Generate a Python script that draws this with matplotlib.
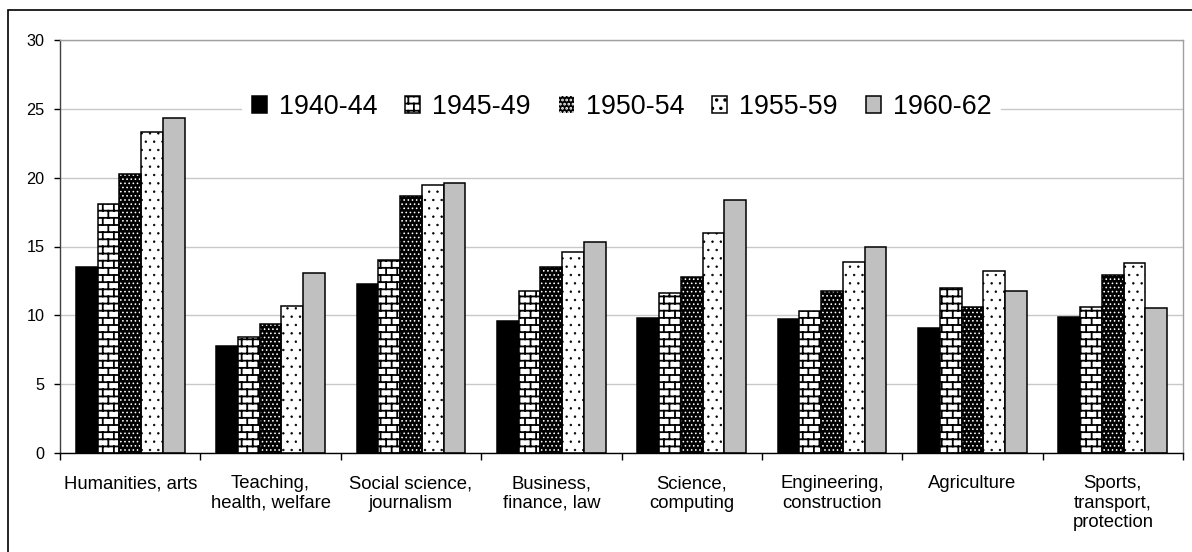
import numpy as np
import matplotlib
matplotlib.use('Agg')
import matplotlib.pyplot as plt
from matplotlib import hatch as mhatch
from matplotlib.path import Path
from matplotlib.patches import Rectangle

categories = ['Humanities, arts', 'Teaching,\nhealth, welfare', 'Social science,\njournalism',
              'Business,\nfinance, law', 'Science,\ncomputing', 'Engineering,\nconstruction',
              'Agriculture', 'Sports,\ntransport,\nprotection']
periods = ['1940-44', '1945-49', '1950-54', '1955-59', '1960-62']
v_1940_44 = [13.5, 7.8, 12.3, 9.6, 9.8, 9.7, 9.1, 9.9]
v_1945_49 = [18.1, 8.4, 14.0, 11.8, 11.6, 10.3, 12.0, 10.6]
v_1950_54 = [20.3, 9.4, 18.7, 13.5, 12.8, 11.8, 10.6, 12.9]
v_1955_59 = [23.3, 10.7, 19.5, 14.6, 16.0, 13.9, 13.2, 13.8]
v_1960_62 = [24.3, 13.1, 19.6, 15.3, 18.4, 15.0, 11.8, 10.5]


# brick texture: takes the place of the 'O' hatch
class BrickHatch(mhatch.HatchPatternBase):
    rows, cols = 14, 9

    def __init__(self, hatch, density):
        self.on = 'O' in hatch
        n = self.rows + self.rows * self.cols + self.cols
        self.num_vertices = 2 * n if self.on else 0

    def set_vertices_and_codes(self, vertices, codes):
        h = 1.0 / self.rows
        segs = []
        for r in range(self.rows):
            y0 = (r + 0.5) * h
            segs.append([(0, y0), (1, y0)])
            shift = 0.5 * (r % 2) + 0.25
            for c in range(self.cols):
                xx = (c + shift) / self.cols
                segs.append([(xx, y0), (xx, y0 + h)])
        shift = 0.5 * ((self.rows - 1) % 2) + 0.25
        for c in range(self.cols):
            xx = (c + shift) / self.cols
            segs.append([(xx, -0.5 * h), (xx, 0.5 * h)])
        vertices[:] = np.array(segs, dtype=float).reshape(-1, 2)
        codes[0::2] = Path.MOVETO
        codes[1::2] = Path.LINETO


mhatch._hatch_types[mhatch._hatch_types.index(mhatch.LargeCircles)] = BrickHatch

plt.rcParams['font.family'] = ['Liberation Sans', 'DejaVu Sans']
plt.rcParams['hatch.linewidth'] = 1.3


def thin_hatch(bars, lw):
    for p in bars:
        if hasattr(p, 'set_hatch_linewidth'):
            p.set_hatch_linewidth(lw)


fig = plt.figure(figsize=(11.92, 5.52), dpi=100)
ax = fig.add_axes([60 / 1192, 99 / 552, 1123 / 1192, 413 / 552])

x = np.arange(len(categories))
w = 0.155
offs = (np.arange(5) - 2) * w
lw = 1.1

b0 = ax.bar(x + offs[0], v_1940_44, w, color='black', edgecolor='black', linewidth=lw, zorder=2)
b1 = ax.bar(x + offs[1], v_1945_49, w, color='white', edgecolor='black', hatch='O', linewidth=lw, zorder=2)
b2 = ax.bar(x + offs[2], v_1950_54, w, color='black', edgecolor='white', hatch='....', linewidth=0, zorder=2)
thin_hatch(b2, 0.65)
ax.bar(x + offs[2], v_1950_54, w, fill=False, edgecolor='black', linewidth=lw, zorder=3)
b3 = ax.bar(x + offs[3], v_1955_59, w, color='white', edgecolor='black', hatch='..', linewidth=lw, zorder=2)
thin_hatch(b3, 0.5)
b4 = ax.bar(x + offs[4], v_1960_62, w, color='#c0c0c0', edgecolor='black', linewidth=lw, zorder=2)

ax.set_xlim(-0.5, len(categories) - 0.5)
ax.set_ylim(0, 30)
ax.set_yticks(np.arange(0, 31, 5))
ax.yaxis.grid(True, color='#c8c8c8', linewidth=1.0)
ax.set_axisbelow(True)

ax.set_xticks(x)
ax.set_xticklabels(categories, fontsize=13.3, linespacing=1.2)
ax.set_xticks(np.arange(-0.5, len(categories)), minor=True)
ax.tick_params(axis='x', which='major', length=0, pad=16)
ax.tick_params(axis='x', which='minor', length=5, width=1, direction='out')
ax.tick_params(axis='y', labelsize=11.7, length=4.3, width=1, direction='out', pad=7)

for s in ['top', 'right']:
    ax.spines[s].set_color('#a0a0a0')
ax.spines['left'].set_color('#404040')
ax.spines['bottom'].set_color('black')
for s in ax.spines.values():
    s.set_linewidth(1.0)

leg = ax.legend([b0, b1, b2, b3, b4], periods, loc='center', bbox_to_anchor=(0.5, 0.838),
                ncol=5, fontsize=19.4, frameon=True, fancybox=False, framealpha=1,
                handlelength=0.56, handleheight=0.56, handletextpad=0.44,
                columnspacing=1.04, borderpad=0.35)
leg.get_frame().set_edgecolor('none')

fig.add_artist(Rectangle((8 / 1192, -0.1), 1.2, 1.1 - 10 / 552, transform=fig.transFigure,
                         fill=False, edgecolor='black', linewidth=1.2))

fig.savefig('out.png', dpi=100)
